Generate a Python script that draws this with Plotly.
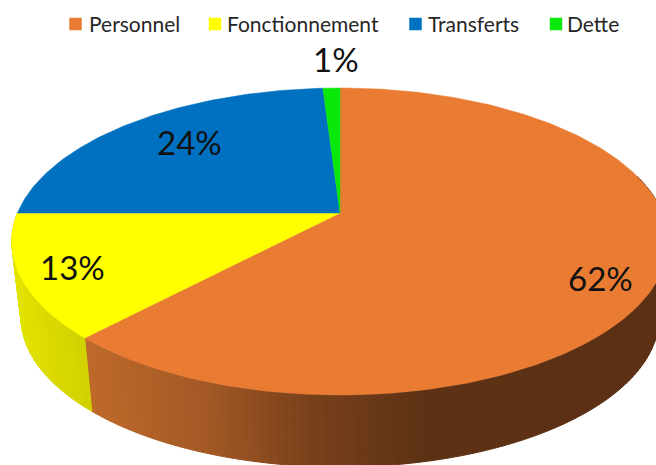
import numpy as np
import plotly.graph_objects as go

# Data
categories = ["Personnel", "Fonctionnement", "Transferts", "Dette"]
values = [62, 13, 24, 1]
labels = ["62%", "13%", "24%", "1%"]

# Styles
colors = ["#E97B33", "#FFFF00", "#0070C0", "#0AE80A"]
side_stops = {
    "Personnel": [(88, (190, 105, 42)), (200, (165, 90, 38)), (300, (125, 67, 28)),
                  (420, (94, 50, 21)), (656, (92, 48, 20))],
    "Fonctionnement": [(15, (226, 226, 0)), (94, (207, 207, 0))],
}
legend_marker_x = [75.5, 215, 415.5, 556]
legend_text_x = [88, 226, 427, 566]
label_pos = [(600, 278), (72, 267), (189, 142), (336, 59)]

# Projection of the disc
K, AX = 0.1857, 322.5
TOP = dict(x0=340.0, y0=213.0, a=AX, b=148.2)
BOT = dict(x0=340.0, y0=289.5, a=AX * 0.972, b=144.5)
FIRST_VISIBLE_ANGLE = 75.0


def project(theta_deg, p):
    t = np.radians(theta_deg)
    u, v = np.sin(t), np.cos(t)
    w = 1 + K * v
    return p["x0"] + p["a"] * u / w, p["y0"] - p["b"] * v / w


def side_color(name, x):
    st = side_stops[name]
    xs = [s[0] for s in st]
    c = [np.interp(x, xs, [s[1][i] for s in st]) for i in range(3)]
    return "rgb(%d,%d,%d)" % tuple(c)


fig = go.Figure()
total = sum(values)
edges = np.cumsum([0] + values) / total * 360

# Visible side wall, drawn as thin strips for the shading
for name, start, end in zip(categories, edges[:-1], edges[1:]):
    if name not in side_stops:
        continue
    start = max(start, FIRST_VISIBLE_ANGLE)
    n = max(2, int((end - start) / 1.2))
    th = np.linspace(start, end, n + 1)
    for a, b in zip(th[:-1], th[1:]):
        xt1, yt1 = project(a, TOP)
        xt2, yt2 = project(b, TOP)
        xb1, yb1 = project(a, BOT)
        xb2, yb2 = project(b, BOT)
        col = side_color(name, (xt1 + xt2) / 2)
        fig.add_trace(go.Scatter(
            x=[xt1, xt2, xb2, xb1, xt1], y=[yt1, yt2, yb2, yb1, yt1],
            mode="lines", fill="toself", fillcolor=col,
            line=dict(color=col, width=1), hoverinfo="skip", showlegend=False))

# Top face
for name, start, end, col in zip(categories, edges[:-1], edges[1:], colors):
    th = np.linspace(start, end, max(3, int(end - start) + 2))
    xs, ys = project(th, TOP)
    fig.add_trace(go.Scatter(
        x=[TOP["x0"], *xs, TOP["x0"]], y=[TOP["y0"], *ys, TOP["y0"]],
        mode="lines", fill="toself", fillcolor=col,
        line=dict(color=col, width=0.5), name=name, showlegend=False, hoverinfo="name"))

# Legend
fig.add_trace(go.Scatter(
    x=legend_marker_x, y=[24] * 4, mode="markers",
    marker=dict(symbol="square", size=12.5, color=colors, line=dict(width=0)),
    hoverinfo="skip", showlegend=False))
annotations = []
for name, x in zip(categories, legend_text_x):
    annotations.append(dict(x=x, y=23, text=name, showarrow=False, xanchor="left", yanchor="middle",
                            font=dict(family="Lato", size=21, color="#262626"),
                            xref="x", yref="y", borderpad=0))
for lab, (x, y) in zip(labels, label_pos):
    annotations.append(dict(x=x, y=y, text=lab, showarrow=False, xanchor="center", yanchor="middle",
                            font=dict(family="Lato", size=33, color="#111111"),
                            xref="x", yref="y", borderpad=0))

fig.update_layout(
    width=656, height=465, margin=dict(l=0, r=0, t=0, b=0),
    paper_bgcolor="white", plot_bgcolor="white", showlegend=False,
    xaxis=dict(range=[0, 656], visible=False, fixedrange=True),
    yaxis=dict(range=[465, 0], visible=False, fixedrange=True),
    annotations=annotations)

fig.write_html("out.html", config={"displayModeBar": False},
               post_script="document.body.style.margin='0';document.body.style.overflow='hidden';")
